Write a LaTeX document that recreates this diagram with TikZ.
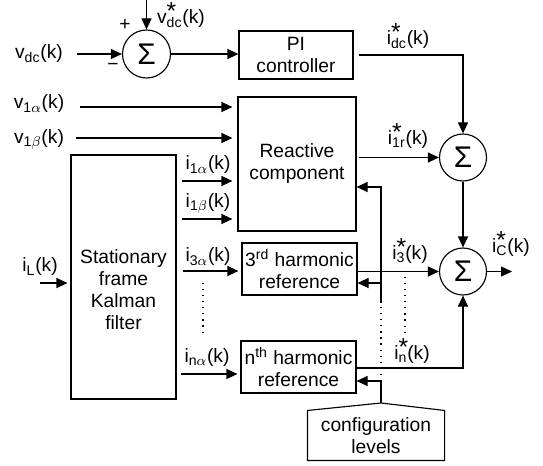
\documentclass[tikz,border=0pt,11pt]{standalone}
\usepackage{fontspec}
\setmainfont{Liberation Sans}
\usetikzlibrary{arrows.meta}
\newcommand{\sgn}[2]{#1\textsubscript{#2}(k)}
\newcommand{\rsgn}[2]{#1\rlap{\raisebox{2.6pt}{\fontsize{14}{14}\selectfont *}}\textsubscript{#2}(k)}
\newcommand{\bigsum}{\fontsize{17}{17}\selectfont Σ}
\begin{document}
\begin{tikzpicture}[line width=0.65pt,
  font=\fontsize{10.95}{12.5}\selectfont,
  blk/.style={draw,align=center,inner sep=0pt},
  sumnode/.style={draw,circle,minimum size=0.94cm,inner sep=0pt},
  arr/.style={-{Triangle[length=2.2mm,width=2mm]}},
  dots/.style={dash pattern=on 0.65pt off 2.8pt}]
\useasboundingbox (0,0) rectangle (10.86,-9.30);

\node[sumnode,minimum size=0.96cm] (s1) at (2.93,-1.08) {\bigsum};
\node[blk,minimum width=2.28cm,minimum height=0.96cm] (pi) at (5.92,-1.10) {PI\\controller};
\node[blk,minimum width=2.36cm,minimum height=2.68cm] (rc) at (5.94,-3.28) {Reactive\\component};
\node[blk,minimum width=2.10cm,minimum height=4.88cm,
  label={[align=center,yshift=-0.26cm]center:Stationary\\frame\\Kalman\\filter}] (kf) at (2.47,-5.54) {};
\node[blk,minimum width=2.30cm,minimum height=1.04cm] (h3) at (5.99,-5.38) {3\textsuperscript{rd} harmonic\\reference};
\node[blk,minimum width=2.30cm,minimum height=1.04cm] (hn) at (5.97,-7.34) {n\textsuperscript{th} harmonic\\reference};
\node[sumnode] (s2) at (9.26,-3.15) {\bigsum};
\node[sumnode] (s3) at (9.26,-5.43) {\bigsum};

\node[minimum width=2.72cm,minimum height=0.94cm,align=center] (cfg) at (7.52,-8.71) {configuration\\levels};
\coordinate (cfgtop) at (7.62,-8.06);
\draw (cfg.south west) -- (cfg.north west) -- (cfgtop) -- (cfg.north east) -- (cfg.south east) -- cycle;

\node (vdc) at (0.78,-1.08) {\sgn{v}{dc}};
\node (vdcref) at (3.62,-0.30) {\rsgn{v}{dc}};
\node (plus) at (2.50,-0.50) {+};
\node (minus) at (2.26,-1.34) {−};
\node (v1a) at (0.78,-2.08) {\sgn{v}{1$\alpha$}};
\node (v1b) at (0.78,-2.78) {\sgn{v}{1$\beta$}};
\node (iL) at (0.80,-5.34) {\sgn{i}{L}};

\node (i1a) at (4.16,-3.30) {\sgn{i}{1$\alpha$}};
\node (i1b) at (4.16,-4.06) {\sgn{i}{1$\beta$}};
\node (i3a) at (4.16,-5.14) {\sgn{i}{3$\alpha$}};
\node (ina) at (4.14,-7.16) {\sgn{i}{n$\alpha$}};

\node (idc) at (8.16,-0.72) {\rsgn{i}{dc}};
\node (i1r) at (8.16,-2.72) {\rsgn{i}{1r}};
\node (i3) at (8.20,-5.02) {\rsgn{i}{3}};
\node (in) at (8.24,-7.02) {\rsgn{i}{n}};
\node (ic) at (10.22,-4.88) {\rsgn{i}{C}};

\coordinate (vdcin) at (1.54,-1.08);
\coordinate (vdcrefin) at (2.93,0);
\coordinate (v1ain) at (1.60,-2.14);
\coordinate (v1bin) at (1.52,-2.76);
\coordinate (iLin) at (0.80,-5.66);
\coordinate (icout) at (10.24,-5.43);

\draw[arr] (vdcin) -- (s1);
\draw[arr] (vdcrefin) -- (s1);
\draw[arr] (s1) -- (s1 -| pi.west);
\draw[arr,shorten <=0.1cm] (pi.east) -| (s2);
\draw[arr,shorten >=0.1cm] (v1ain) -- (v1ain -| rc.west);
\draw[arr,shorten >=0.1cm] (v1bin) -- (v1bin -| rc.west);
\draw[arr,shorten >=0.06cm] (iLin) -- (iLin -| kf.west);

\draw[arr,shorten <=0.1cm,shorten >=0.1cm] (kf.east |- 0,-3.62) -- (rc.west |- 0,-3.62);
\draw[arr,shorten <=0.1cm,shorten >=0.1cm] (kf.east |- 0,-4.38) -- (rc.west |- 0,-4.38);
\draw[arr,shorten <=0.12cm,shorten >=0.06cm] (kf.east |- 0,-5.42) -- (h3.west |- 0,-5.42);
\draw[arr,shorten <=0.08cm,shorten >=0.06cm] (kf.east |- 0,-7.48) -- (hn.west |- 0,-7.48);
\draw[dots] (4.06,-5.66) -- (4.06,-6.74);

\draw[arr,shorten <=0.04cm] (rc.east |- s2) -- (s2);
\draw[arr] (s2) -- (s3);
\draw[arr] (h3.east |- s3) -- (s3);
\draw[arr] (hn.east |- 0,-7.36) -| (s3);
\draw[arr] (s3) -- (icout);
\draw[dots] (8.10,-5.54) -- (8.10,-6.66);

\coordinate (fbtop) at (7.62,-3.74);
\coordinate (fb3) at (7.62,-5.66);
\coordinate (fbmid) at (7.62,-6.06);
\coordinate (fbn) at (7.62,-7.62);
\draw[arr] (cfgtop) -- (fbn) -- (fbn -| hn.east);
\draw[dots] (fbn) -- (fbmid);
\draw[arr] (fbmid) -- (fbtop) -- (fbtop -| rc.east);
\draw[arr] (fb3) -- (fb3 -| h3.east);

\end{tikzpicture}
\end{document}
